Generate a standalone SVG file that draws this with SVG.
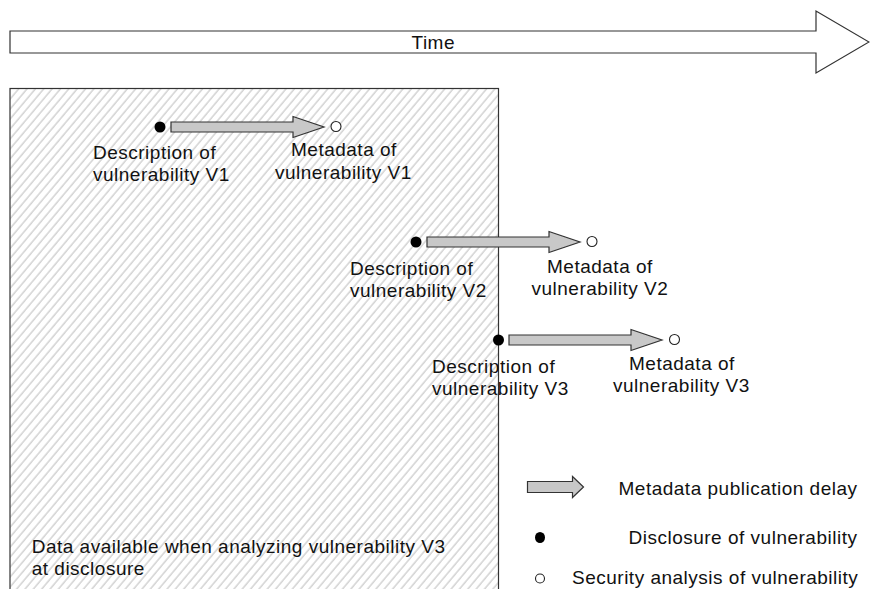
<svg xmlns="http://www.w3.org/2000/svg" xmlns:xlink="http://www.w3.org/1999/xlink" width="870" height="589" viewBox="0 0 870 589">
  <style>
    text { font-family: "Liberation Sans", Arial, sans-serif; font-size: 19px; letter-spacing: 0.5px; fill: #111; }
    .frame { fill: #fff; stroke: #333; stroke-width: 1.2; }
    .delay { fill: #c8c8c8; stroke: #333; stroke-width: 1.2; stroke-linejoin: miter; }
    .disc { fill: #000; }
    .anal { fill: #fff; stroke: #222; stroke-width: 1.1; }
  </style>
  <defs>
    <pattern id="hatch" width="6.4" height="20" patternUnits="userSpaceOnUse" patternTransform="rotate(40)">
      <line x1="1" y1="-5" x2="1" y2="25" stroke="#bcbcbc" stroke-width="1"/>
    </pattern>
    <path id="delayArrow" d="M11,-5 H133 V-10.5 L164,0 L133,10.5 V5 H11 Z"/>
  </defs>

  <g id="time-axis">
    <polygon class="frame" points="10,31 816,31 816,11 869,42 816,73 816,53 10,53"/>
    <text x="411.5" y="49.3">Time</text>
  </g>

  <g id="available-data">
    <rect x="10" y="88.5" width="488.5" height="510" fill="url(#hatch)" stroke="#333" stroke-width="1.2"/>
    <text x="31.7" y="553.3">Data available when analyzing vulnerability V3</text>
    <text x="31.7" y="575">at disclosure</text>
  </g>

  <g id="connectors">
    <use href="#delayArrow" class="delay" transform="translate(160,127)"/>
    <use href="#delayArrow" class="delay" transform="translate(416,242)"/>
    <use href="#delayArrow" class="delay" transform="translate(498,340)"/>
  </g>

  <g id="v1-description">
    <circle class="disc" cx="160" cy="127" r="5.5"/>
    <text x="93" y="159">Description of</text>
    <text x="93" y="181">vulnerability V1</text>
  </g>
  <g id="v1-metadata">
    <circle class="anal" cx="336" cy="126.5" r="5"/>
    <text x="291" y="156">Metadata of</text>
    <text x="275" y="179">vulnerability V1</text>
  </g>

  <g id="v2-description">
    <circle class="disc" cx="416" cy="242" r="5.5"/>
    <text x="350" y="275">Description of</text>
    <text x="350" y="297">vulnerability V2</text>
  </g>
  <g id="v2-metadata">
    <circle class="anal" cx="592" cy="241.5" r="5"/>
    <text x="547" y="272.5">Metadata of</text>
    <text x="531.5" y="295">vulnerability V2</text>
  </g>

  <g id="v3-description">
    <circle class="disc" cx="498.5" cy="340" r="5.5"/>
    <text x="432" y="373">Description of</text>
    <text x="432" y="395">vulnerability V3</text>
  </g>
  <g id="v3-metadata">
    <circle class="anal" cx="674.5" cy="339.5" r="5"/>
    <text x="629" y="370">Metadata of</text>
    <text x="613" y="392">vulnerability V3</text>
  </g>

  <g id="legend">
    <path class="delay" d="M527.5,481.5 H572.5 V476.5 L583.5,487 L572.5,497.5 V492.5 H527.5 Z"/>
    <text x="618.5" y="495">Metadata publication delay</text>
    <ellipse class="disc" cx="540" cy="537.5" rx="5" ry="5.5"/>
    <text x="628.5" y="544">Disclosure of vulnerability</text>
    <circle class="anal" cx="540" cy="578.5" r="4.5"/>
    <text x="572" y="583.5">Security analysis of vulnerability</text>
  </g>
</svg>
